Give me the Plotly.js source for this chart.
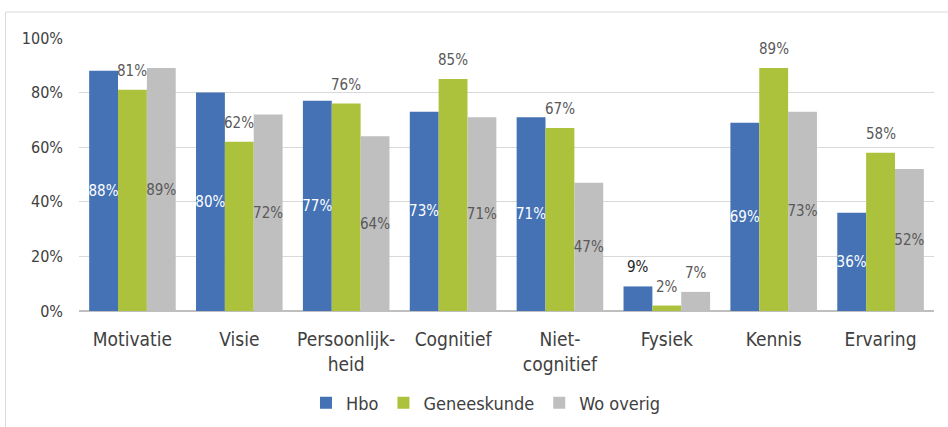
<!DOCTYPE html>
<html>
<head>
<meta charset="utf-8">
<script src="https://cdn.plot.ly/plotly-3.0.1.min.js"></script>
<style>
  html, body { margin: 0; padding: 0; background: #ffffff; }
  #chart { width: 948px; height: 427px; }
</style>
</head>
<body>
<div id="chart"></div>
<script>
const categories = ["Motivatie", "Visie", "Persoonlijk-<br>heid", "Cognitief", "Niet-<br>cognitief", "Fysiek", "Kennis", "Ervaring"];
const hbo = [88, 80, 77, 73, 71, 9, 69, 36];
const geneeskunde = [81, 62, 76, 85, 67, 2, 89, 58];
const woOverig = [89, 72, 64, 71, 47, 7, 73, 52];
const yTickVals = [0, 20, 40, 60, 80, 100];
const yTickText = ["0%", "20%", "40%", "60%", "80%", "100%"];

const FONT = "'DejaVu Sans Condensed', 'DejaVu Sans', sans-serif";
const LABEL_SIZE = 15;
const pct = v => v + "%";
const isSmall = v => v < 15;

const W = 948, H = 427;
const margin = { l: 79, r: 14, t: 38, b: 2 };
const plotH = H - margin.t - margin.b;
const axisBottomPx = 311;            // pixel row of the 0% line
const BARGAP = 0.19;
const catPx = (W - margin.l - margin.r) / categories.length;
const barPx = catPx * (1 - BARGAP) / 3;

const series = [
  { name: "Hbo", y: hbo, color: "#4472b5", inColor: "#ffffff", outColor: "#222222", inside: true },
  { name: "Geneeskunde", y: geneeskunde, color: "#adc23c", inColor: "#595959", outColor: "#595959", inside: false },
  { name: "Wo overig", y: woOverig, color: "#bfbfbf", inColor: "#595959", outColor: "#595959", inside: true }
];

const traces = series.map(s => ({
  type: "bar", name: s.name, x: categories, y: s.y,
  marker: { color: s.color },
  text: s.y.map(v => (s.inside && !isSmall(v)) ? pct(v) : ""),
  textposition: "inside", insidetextanchor: "middle",
  insidetextfont: { color: s.inColor, size: LABEL_SIZE, family: FONT },
  textangle: 0, cliponaxis: false, hoverinfo: "none"
}));

const annotations = [];
series.forEach((s, si) => {
  s.y.forEach((v, ci) => {
    if (!s.inside || isSmall(v)) {
      annotations.push({
        x: categories[ci], y: v, xref: "x", yref: "y",
        text: pct(v), showarrow: false,
        xshift: (si - 1) * barPx, yshift: 19, yanchor: "middle", xanchor: "center",
        font: { family: FONT, size: LABEL_SIZE, color: s.outColor }
      });
    }
  });
});

const paperY = px => (H - margin.b - px) / plotH;

const layout = {
  width: W, height: H,
  margin: margin,
  paper_bgcolor: "#ffffff", plot_bgcolor: "#ffffff",
  font: { family: FONT, size: 16, color: "#404040" },
  barmode: "group", bargap: BARGAP, bargroupgap: 0,
  uniformtext: { mode: "show", minsize: LABEL_SIZE },
  showlegend: true,
  legend: {
    orientation: "h", x: 0.476, xanchor: "center", y: paperY(403), yanchor: "middle",
    font: { family: FONT, size: 18, color: "#404040" }, traceorder: "normal", itemwidth: 30,
    tracegroupgap: 0
  },
  xaxis: {
    type: "category", showgrid: false, showline: false, zeroline: false, ticks: "",
    tickfont: { family: FONT, size: 19, color: "#404040" }, ticklabelstandoff: 15, fixedrange: true,
    anchor: "y"
  },
  yaxis: {
    domain: [paperY(axisBottomPx), 1],
    range: [0, 100], tickvals: yTickVals, ticktext: yTickText,
    showgrid: true, gridcolor: "#d9d9d9", gridwidth: 1,
    zeroline: true, zerolinecolor: "#bfbfbf", zerolinewidth: 1.5,
    showline: false, ticks: "", ticklabelstandoff: 15,
    tickfont: { family: FONT, size: 16, color: "#404040" }, fixedrange: true
  },
  annotations: annotations,
  shapes: [
    { type: "rect", xref: "paper", yref: "paper", x0: -0.086, x1: 1.2, y0: -0.3, y1: paperY(12),
      line: { color: "#d9d9d9", width: 1 }, fillcolor: "rgba(0,0,0,0)", layer: "below" }
  ]
};

Plotly.newPlot("chart", traces, layout, { displayModeBar: false, staticPlot: true });
</script>
</body>
</html>
